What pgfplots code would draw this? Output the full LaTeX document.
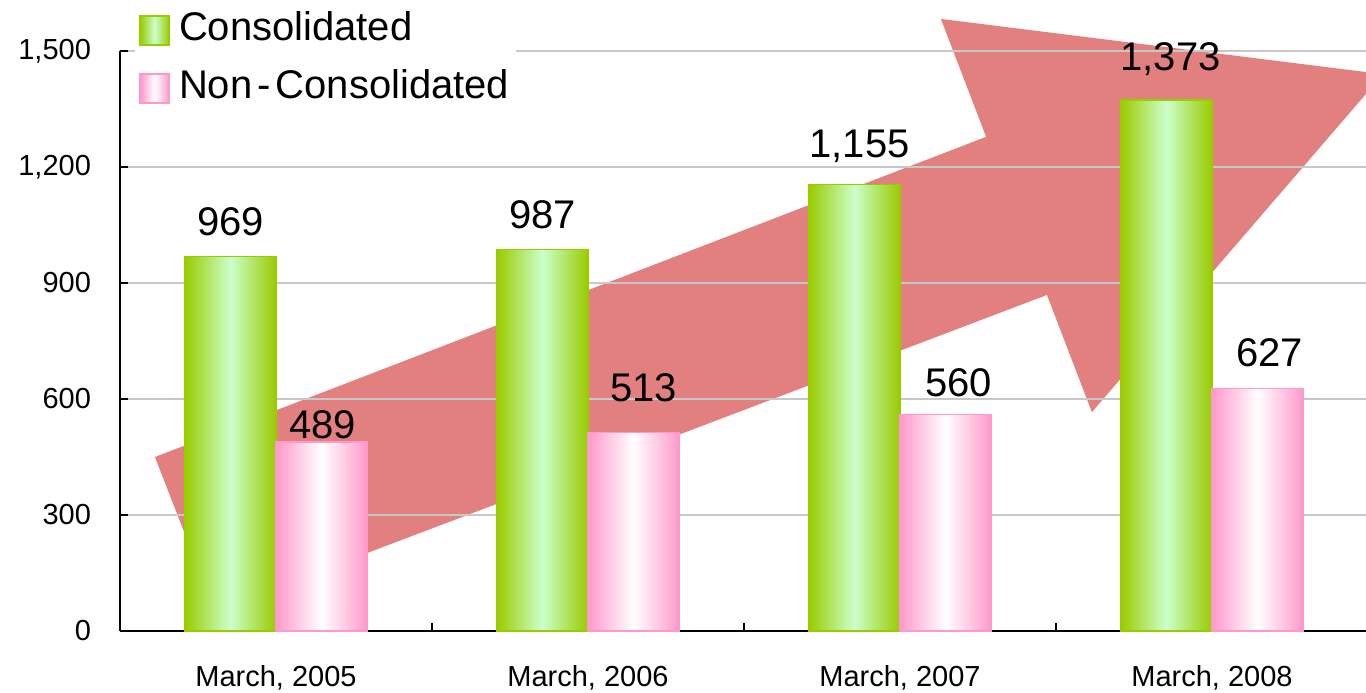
\documentclass[border=0pt]{standalone}
\usepackage{fontspec}
\setmainfont{Liberation Sans}
\usepackage{pgfplots}
\pgfplotsset{compat=1.18}
\definecolor{gdark}{HTML}{99CC00}
\definecolor{glight}{HTML}{CCFFCC}
\definecolor{pdark}{HTML}{FF99CC}
\definecolor{arrowred}{HTML}{E27F7F}
\definecolor{gridgray}{HTML}{C8C8C8}

\pgfplotsset{
  gbar/.style={forget plot, ybar, bar width=0.292, bar shift=0pt, draw=gdark, line width=0.8pt,
    left color=gdark, right color=gdark, middle color=glight,
    nodes near coords,
    nodes near coords style={font=\fontsize{20}{24}\selectfont, text=black, yshift=6.5pt}},
  pbar/.style={forget plot, ybar, bar width=0.292, bar shift=0pt, draw=pdark, line width=0.8pt,
    left color=pdark, right color=pdark, middle color=white,
    nodes near coords,
    nodes near coords style={font=\fontsize{20}{24}\selectfont, text=black, yshift=6.5pt}},
}

\begin{document}
\begin{tikzpicture}
\begin{axis}[
  set layers=standard,
  scale only axis, width=624pt, height=290pt,
  xmin=-0.5, xmax=3.5, ymin=0, ymax=1500,
  axis x line*=bottom, axis y line*=left,
  axis line style={black, line width=0.6pt},
  ytick={0,300,...,1500},
  xtick={0.5,1.5,2.5}, xticklabels={},
  extra x ticks={0,1,2,3},
  extra x tick labels={{March, 2005},{March, 2006},{March, 2007},{March, 2008}},
  extra x tick style={major tick length=0pt},
  tick align=inside, major tick length=4pt,
  tick style={black, line width=0.6pt},
  ymajorgrids, grid style={gridgray, line width=0.6pt},
  yticklabel shift=11pt, xticklabel shift=13.5pt,
  ticklabel style={font=\fontsize{14.5}{17}\selectfont, black},
  /pgf/number format/assume math mode=true,
  /pgf/number format/1000 sep={,},
  clip=false,
  legend style={at={(rel axis cs:0,1)}, anchor=north west, xshift=7.5pt, yshift=23.5pt,
    draw=none, fill=white, inner sep=2pt, row sep=7pt,
    font=\fontsize{20}{24}\selectfont,
    nodes={inner sep=1.5pt, text depth=4.5pt, text height=14.5pt}},
  legend cell align=left,
]
\coordinate (bl) at (rel axis cs:0,0);
\coordinate (tr) at (rel axis cs:1,1);
\begin{pgfonlayer}{axis background}
\fill[arrowred] (axis cs:-0.388,450) -- (axis cs:2.276,1278) -- (axis cs:2.131,1583)
  -- (axis cs:3.548,1440) -- (axis cs:2.615,566) -- (axis cs:2.471,869)
  -- (axis cs:-0.196,52) -- cycle;
\end{pgfonlayer}

\addlegendimage{legend image code/.code={\draw[draw=gdark,left color=gdark,right color=gdark,middle color=glight,line width=0.8pt] (0pt,-7.25pt) rectangle (14.5pt,7.25pt);}}
\addlegendentry{\hspace{3pt}Consolidated}
\addlegendimage{legend image code/.code={\draw[draw=pdark,left color=pdark,right color=pdark,middle color=white,line width=0.8pt] (0pt,-7.25pt) rectangle (14.5pt,7.25pt);}}
\addlegendentry{\hspace{3pt}Non\hspace{2.5pt}-\hspace{2.5pt}Consolidated}

% Consolidated
\addplot[gbar] coordinates {(-0.146,969)};
\addplot[gbar] coordinates {(0.854,987)};
\addplot[gbar, nodes near coords style={xshift=2.5pt, yshift=0.5pt}] coordinates {(1.854,1155)};
\addplot[gbar, nodes near coords style={xshift=2pt, yshift=2pt}] coordinates {(2.854,1373)};
% Non-Consolidated
\addplot[pbar, nodes near coords style={xshift=0.5pt, yshift=-8.5pt}] coordinates {(0.146,489)};
\addplot[pbar, nodes near coords style={xshift=5pt, yshift=5pt}] coordinates {(1.146,513)};
\addplot[pbar, nodes near coords style={xshift=6.5pt, yshift=-1.5pt}] coordinates {(2.146,560)};
\addplot[pbar, nodes near coords style={xshift=6pt, yshift=0.5pt}] coordinates {(3.146,627)};
\end{axis}
\pgfresetboundingbox
\path ([xshift=-60pt,yshift=-31pt]bl) rectangle ([xshift=-1pt,yshift=25.5pt]tr);
\end{tikzpicture}
\end{document}
